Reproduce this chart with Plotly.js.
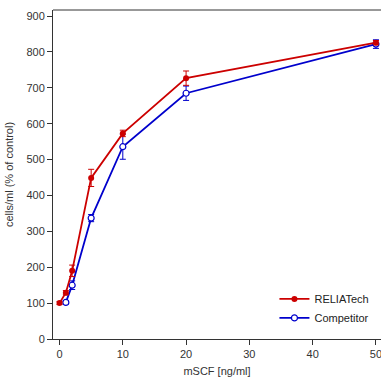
<!DOCTYPE html>
<html><head><meta charset="utf-8">
<script src="https://cdn.plot.ly/plotly-3.0.1.min.js"></script>
<style>html,body{margin:0;padding:0;background:#fff}#c{width:381px;height:381px}</style>
</head><body><div id="c"></div>
<script>
const relX = [0, 1, 2, 5, 10, 20, 50];
const relY = [100, 129, 190, 449, 573, 727, 826];
const relErr = [4, 6, 16, 24, 9, 20, 6];
const compX = [1, 2, 5, 10, 20, 50];
const compY = [102, 150, 337, 536, 685, 822];
const compErr = [5, 12, 10, 35, 20, 12];
const xTicks = [0, 10, 20, 30, 40, 50];
const yTicks = [0, 100, 200, 300, 400, 500, 600, 700, 800, 900];
const red = '#CC0000', blue = '#0000CC';
const traces = [
  {x: compX, y: compY, name: 'Competitor', type: 'scatter', mode: 'lines+markers',
   line: {color: blue, width: 1.8},
   marker: {symbol: 'circle', size: 6, color: '#fff', line: {color: blue, width: 1.2}},
   error_y: {type: 'data', array: compErr, visible: true, color: blue, thickness: 1, width: 3}},
  {x: relX, y: relY, name: 'RELIATech', type: 'scatter', mode: 'lines+markers',
   line: {color: red, width: 1.8},
   marker: {symbol: 'circle', size: 6, color: red},
   error_y: {type: 'data', array: relErr, visible: true, color: red, thickness: 1, width: 3}}
];
const axisFont = {family: 'Liberation Sans, Arial, sans-serif', size: 11, color: '#333'};
const layout = {
  width: 381, height: 381,
  margin: {l: 53, r: 0, t: 10, b: 42},
  paper_bgcolor: '#fff', plot_bgcolor: '#fff',
  showlegend: true,
  legend: {x: 0.98, y: 0.02, xanchor: 'right', yanchor: 'bottom', traceorder: 'reversed',
           font: {family: 'Liberation Sans, Arial, sans-serif', size: 11, color: '#222'},
           bgcolor: 'rgba(0,0,0,0)', itemwidth: 30, tracegroupgap: 0},
  xaxis: {range: [-1.03, 50.8], tickvals: xTicks, ticks: 'outside', ticklen: 5, tickcolor: '#333',
          showline: true, linecolor: '#333', linewidth: 1, showgrid: false, zeroline: false,
          tickfont: axisFont, automargin: false, ticklabeloverflow: 'allow',
          title: {text: 'mSCF [ng/ml]', font: axisFont, standoff: 8}},
  yaxis: {range: [0, 917], tickvals: yTicks, ticks: 'outside', ticklen: 5, tickcolor: '#333',
          showline: true, linecolor: '#333', linewidth: 1, showgrid: false, zeroline: false,
          tickfont: axisFont, automargin: false,
          title: {text: 'cells/ml (% of control)', font: axisFont, standoff: 10}},
  shapes: [{type: 'line', xref: 'paper', yref: 'paper', x0: 0, x1: 1, y0: 1, y1: 1,
            line: {color: '#333', width: 1}}]
};
Plotly.newPlot('c', traces, layout, {displayModeBar: false, staticPlot: true});
</script></body></html>
